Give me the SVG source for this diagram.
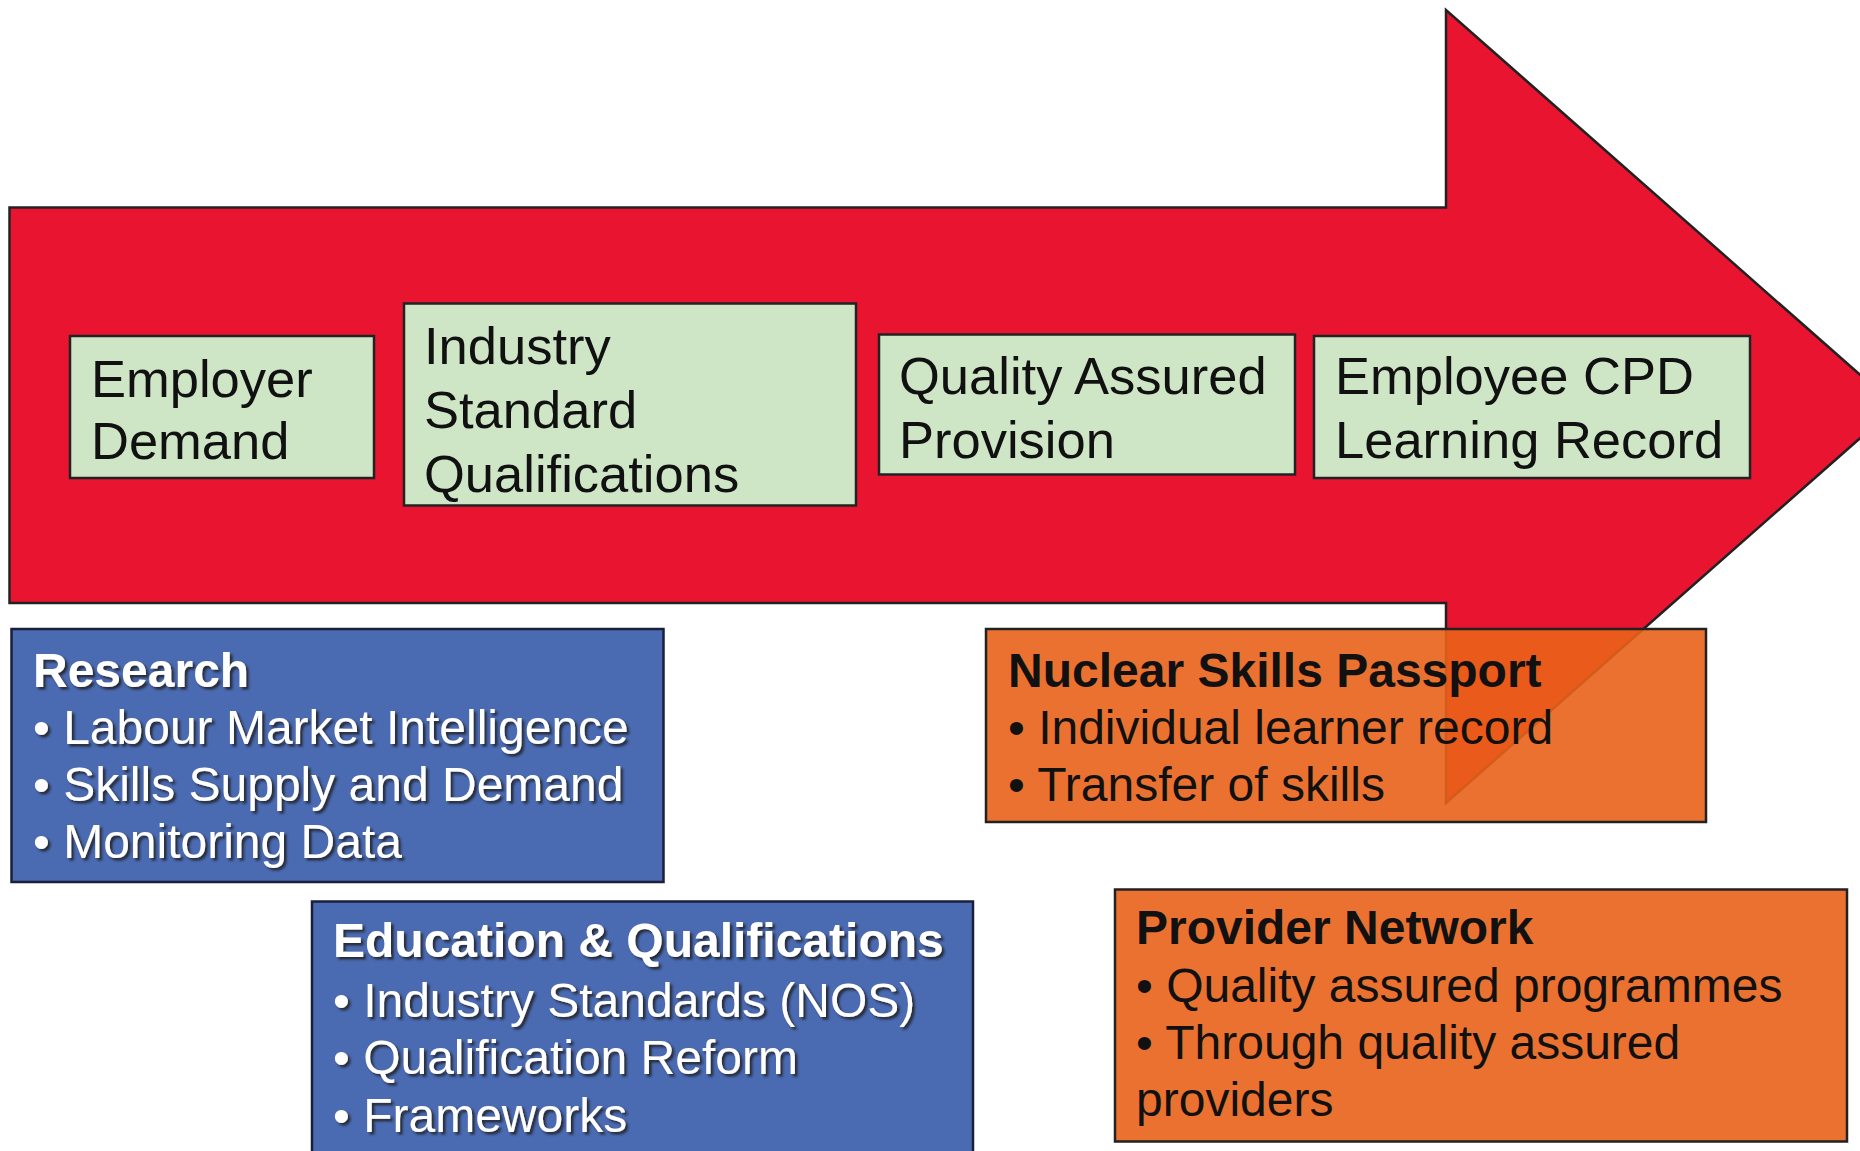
<svg xmlns="http://www.w3.org/2000/svg" width="1860" height="1151" viewBox="0 0 1860 1151">
  <defs>
    <style>
      .stage { fill: #CEE6C6; stroke: #222; stroke-width: 2.5; }
      .stage-text { font-family: "Liberation Sans", Arial, sans-serif; font-size: 52.5px; fill: #111; }
      .blue { fill: #4A6AB2; stroke: #1B1F3A; stroke-width: 2.5; }
      .orange { fill: #E9621A; fill-opacity: 0.9; stroke: #222; stroke-width: 2.5; }
      .info { font-family: "Liberation Sans", Arial, sans-serif; font-size: 48px; }
      .info .head { font-weight: bold; }
      .light { fill: #FFFFFF; filter: url(#shadow); }
      .dark { fill: #111; }
    </style>
    <filter id="shadow" x="-5%" y="-20%" width="110%" height="140%">
      <feDropShadow dx="2.5" dy="2.5" stdDeviation="1" flood-color="#1a1a1a" flood-opacity="0.85"/>
    </filter>
  </defs>

  <rect width="1860" height="1151" fill="#FFFFFF"/>

  <!-- large block arrow running left to right -->
  <g id="connectors">
    <g id="flow-arrow">
      <polygon points="9.5,207.5 1446,207.5 1446,10 1896,406.5 1446,803 1446,603 9.5,603"
               fill="#E81430" stroke="#222" stroke-width="2.5" stroke-linejoin="miter"/>
    </g>
  </g>

  <!-- stages along the arrow -->
  <g id="employer-demand">
    <rect class="stage" x="70" y="336" width="304" height="142"/>
    <text class="stage-text" x="91" y="397">Employer</text>
    <text class="stage-text" x="91" y="459">Demand</text>
  </g>

  <g id="industry-standard-qualifications">
    <rect class="stage" x="404" y="303.5" width="452" height="202"/>
    <text class="stage-text" x="424" y="364">Industry</text>
    <text class="stage-text" x="424" y="428">Standard</text>
    <text class="stage-text" x="424" y="492">Qualifications</text>
  </g>

  <g id="quality-assured-provision">
    <rect class="stage" x="879" y="334.5" width="416" height="140"/>
    <text class="stage-text" x="899" y="394">Quality Assured</text>
    <text class="stage-text" x="899" y="458">Provision</text>
  </g>

  <g id="employee-cpd">
    <rect class="stage" x="1314" y="336" width="436" height="142"/>
    <text class="stage-text" x="1335" y="394">Employee CPD</text>
    <text class="stage-text" x="1335" y="458">Learning Record</text>
  </g>

  <!-- supporting activities -->
  <g id="research" class="info">
    <rect class="blue" x="11.5" y="629" width="652" height="253"/>
    <text class="head light" x="33" y="687">Research</text>
    <text class="light" x="33" y="744">• Labour Market Intelligence</text>
    <text class="light" x="33" y="801">• Skills Supply and Demand</text>
    <text class="light" x="33" y="858">• Monitoring Data</text>
  </g>

  <g id="education-qualifications" class="info">
    <rect class="blue" x="312" y="901.5" width="661" height="270"/>
    <text class="head light" x="333" y="957">Education &amp; Qualifications</text>
    <text class="light" x="333" y="1017">• Industry Standards (NOS)</text>
    <text class="light" x="333" y="1074">• Qualification Reform</text>
    <text class="light" x="333" y="1132">• Frameworks</text>
  </g>

  <g id="nuclear-skills-passport" class="info">
    <rect class="orange" x="986" y="629" width="720" height="193"/>
    <text class="head dark" x="1008" y="687">Nuclear Skills Passport</text>
    <text class="dark" x="1008" y="744">• Individual learner record</text>
    <text class="dark" x="1008" y="801">• Transfer of skills</text>
  </g>

  <g id="provider-network" class="info">
    <rect class="orange" x="1115" y="889.5" width="732" height="252"/>
    <text class="head dark" x="1136" y="944">Provider Network</text>
    <text class="dark" x="1136" y="1002">• Quality assured programmes</text>
    <text class="dark" x="1136" y="1059">• Through quality assured</text>
    <text class="dark" x="1136" y="1116">providers</text>
  </g>
</svg>
